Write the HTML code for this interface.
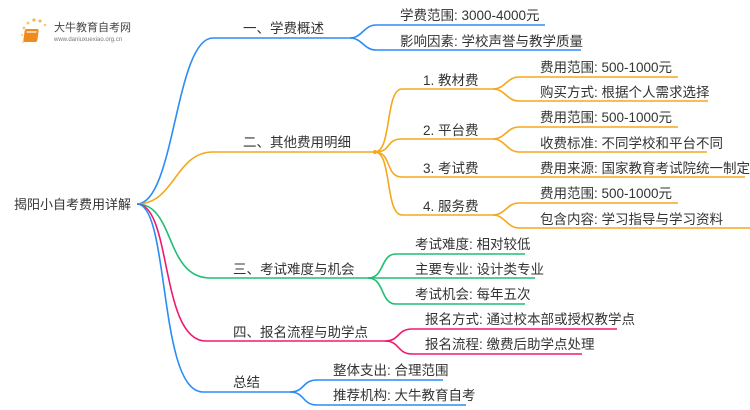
<!DOCTYPE html>
<html><head><meta charset="utf-8"><style>
html,body{margin:0;padding:0;background:#fff;width:750px;height:410px;overflow:hidden}
svg{display:block}
text{font-family:"Liberation Sans","Noto Sans CJK SC",sans-serif;font-size:13.5px;fill:#333}
path{fill:none;stroke-width:1.6}
</style></head><body>
<svg width="750" height="410" viewBox="0 0 750 410">
<g>
<circle cx="24" cy="28" r="1.5" fill="#f7c873"/><circle cx="28" cy="23" r="1.5" fill="#f7c873"/><circle cx="34" cy="20" r="1.6" fill="#f5b54a"/><circle cx="40" cy="21" r="1.5" fill="#f5b54a"/><circle cx="45" cy="25" r="1.3" fill="#f7c873"/><circle cx="22" cy="35" r="1.3" fill="#f7d9a0"/><circle cx="23" cy="42" r="1.2" fill="#f7d9a0"/>
<rect x="29" y="29" width="14" height="13" rx="2" fill="#f08a1c" transform="skewX(-8)"/>
<rect x="31" y="31" width="10" height="2" fill="#fff" opacity=".6" transform="skewX(-8)"/>
<text x="54" y="31" style="font-size:11px;fill:#444">大牛教育自考网</text>
<text x="54" y="41" style="font-size:6px;fill:#777">www.daniuxuexiao.org.cn</text>
</g>

<text x="14" y="209" style="font-size:13px">揭阳小自考费用详解</text>

<path stroke="#2b8cf5" d="M137,204 C175,204 175,38 213,38 L350,38"/>
<text x="243" y="33">一、学费概述</text>
<path stroke="#2b8cf5" d="M350,38 C362,38 364,25 376,25 L545,25"/>
<path stroke="#2b8cf5" d="M350,38 C362,38 364,50 376,50 L581,50"/>
<text x="400" y="20">学费范围: 3000-4000元</text>
<text x="400" y="46">影响因素: 学校声誉与教学质量</text>

<g stroke="#f5a81c">
<path d="M137,204 C175,204 175,152 213,152 L375,152"/>
<path d="M375,152 C392,152 385,89 402,89 L493,89"/>
<path d="M375,152 C392,152 385,139 402,139 L493,139"/>
<path d="M375,152 C392,152 385,177 402,177 L745,177"/>
<path d="M375,152 C392,152 385,215 402,215 L493,215"/>
<path d="M493,89 C505,89 507,77 519,77 L678,77"/>
<path d="M493,89 C505,89 507,101 519,101 L708,101"/>
<path d="M493,139 C505,139 507,127 519,127 L678,127"/>
<path d="M493,139 C505,139 507,152 519,152 L707,152"/>
<path d="M493,215 C505,215 507,203 519,203 L678,203"/>
<path d="M493,215 C505,215 507,228 519,228 L750,228"/>
</g>
<circle cx="375" cy="152" r="2" fill="#f5a81c"/>
<text x="243" y="147">二、其他费用明细</text>
<text x="423" y="85">1. 教材费</text>
<text x="423" y="135">2. 平台费</text>
<text x="423" y="173">3. 考试费</text>
<text x="423" y="211">4. 服务费</text>
<text x="540" y="72">费用范围: 500-1000元</text>
<text x="540" y="97">购买方式: 根据个人需求选择</text>
<text x="540" y="122">费用范围: 500-1000元</text>
<text x="540" y="148">收费标准: 不同学校和平台不同</text>
<text x="540" y="173">费用来源: 国家教育考试院统一制定</text>
<text x="540" y="198">费用范围: 500-1000元</text>
<text x="540" y="224">包含内容: 学习指导与学习资料</text>

<g stroke="#1dbf73">
<path d="M137,204 C175,204 165,278 210,278 L368,278"/>
<path d="M368,278 C385,278 380,254 396,254 L525,254"/>
<path d="M368,278 L535,278"/>
<path d="M368,278 C385,278 380,304 396,304 L525,304"/>
</g>
<text x="233" y="274">三、考试难度与机会</text>
<text x="415" y="249">考试难度: 相对较低</text>
<text x="415" y="274">主要专业: 设计类专业</text>
<text x="415" y="299">考试机会: 每年五次</text>

<g stroke="#f0196e">
<path d="M137,204 C172,204 160,341 206,341 L385,341"/>
<path d="M385,341 C400,341 397,329 412,329 L617,329"/>
<path d="M385,341 C400,341 397,354 412,354 L582,354"/>
</g>
<text x="233" y="337">四、报名流程与助学点</text>
<text x="425" y="324">报名方式: 通过校本部或授权教学点</text>
<text x="425" y="349">报名流程: 缴费后助学点处理</text>

<g stroke="#2b8cf5">
<path d="M137,204 C170,204 158,392 203,392 L290,392"/>
<path d="M290,392 C305,392 302,380 317,380 L443,380"/>
<path d="M290,392 C305,392 302,405 317,405 L466,405"/>
</g>
<text x="233" y="387">总结</text>
<text x="333" y="375">整体支出: 合理范围</text>
<text x="333" y="400">推荐机构: 大牛教育自考</text>
</svg>
</body></html>
